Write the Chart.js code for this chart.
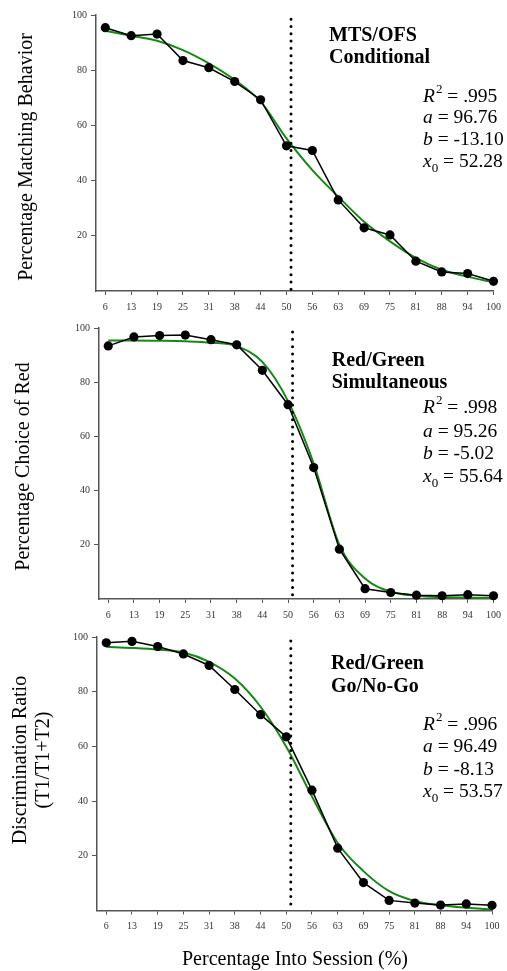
<!DOCTYPE html>
<html>
<head>
<meta charset="utf-8">
<script src="https://cdn.jsdelivr.net/npm/chart.js@4.4.1/dist/chart.umd.min.js"></script>
<style>
  body { margin: 0; background: #fff; }
  .panel { position: absolute; left: 0; width: 507px; }
</style>
</head>
<body>
<div class="panel" style="top:0;height:318px"><canvas id="c1"></canvas></div>
<div class="panel" style="top:318px;height:308px"><canvas id="c2"></canvas></div>
<div class="panel" style="top:626px;height:345px"><canvas id="c3"></canvas></div>
<script>
// x positions (percentage into session) and their printed labels
const sessionPct = [6.25, 12.5, 18.75, 25, 31.25, 37.5, 43.75, 50, 56.25, 62.5, 68.75, 75, 81.25, 87.5, 93.75, 100];
const sessionLabels = ['6', '13', '19', '25', '31', '38', '44', '50', '56', '63', '69', '75', '81', '88', '94', '100'];
const yTicks = [20, 40, 60, 80, 100];
const refLineX = 51.1;

// MTS/OFS conditional
const mtsObserved = [95.4, 92.5, 93.1, 83.5, 80.9, 75.9, 69.3, 52.6, 50.9, 33.0, 22.9, 20.3, 10.8, 6.9, 6.3, 3.5];
const mtsFit = [94.3, 92.5, 90.7, 87.3, 82.5, 76.5, 68.6, 55.3, 43.8, 34.2, 25.1, 18.0, 12.0, 7.7, 5.2, 3.1];
// Red/Green simultaneous
const rgsObserved = [93.4, 96.7, 97.2, 97.4, 95.7, 93.8, 84.4, 71.7, 48.5, 18.4, 3.8, 2.4, 1.4, 1.2, 1.6, 1.2];
const rgsFit = [95.4, 95.4, 95.3, 95.1, 94.6, 93.3, 87.5, 73.0, 50.0, 20.0, 7.6, 2.7, 1.2, 0.7, 0.5, 0.4];
// Red/Green go/no-go
const gngObserved = [97.9, 98.4, 96.5, 93.8, 89.6, 80.8, 71.6, 63.5, 44.0, 22.8, 10.2, 3.7, 2.7, 2.0, 2.4, 1.9];
const gngFit = [96.4, 96.0, 95.4, 94.3, 90.9, 84.8, 74.5, 59.9, 41.7, 24.7, 14.4, 7.1, 3.5, 1.9, 1.0, 0.4];

const panelTitles = [['MTS/OFS', 'Conditional'], ['Red/Green', 'Simultaneous'], ['Red/Green', 'Go/No-Go']];
const fitStats = [['.995', '96.76', '-13.10', '52.28'], ['.998', '95.26', '-5.02', '55.64'], ['.996', '96.49', '-8.13', '53.57']];
const yTitles = [['Percentage Matching Behavior'], ['Percentage Choice of Red'], ['Discrimination Ratio', '(T1/T1+T2)']];
const xTitle = 'Percentage Into Session (%)';

const SERIF = '"Liberation Serif", "Times New Roman", serif';

const panelText = {
    id: 'panelText',
    afterDraw(chart, args, o) {
        const ctx = chart.ctx;
        ctx.save();
        ctx.fillStyle = '#000';
        ctx.textAlign = 'left';
        ctx.textBaseline = 'alphabetic';

        ctx.font = 'bold 20px ' + SERIF;
        o.title.forEach((t, i) => ctx.fillText(t, o.titleX, o.titleY[i]));

        const rows = [
            { v: 'R', sup: '2' },
            { v: 'a' },
            { v: 'b' },
            { v: 'x', sub: '0' }
        ];
        rows.forEach((r, i) => {
            let x = o.statsX;
            const y = o.statsY[i];
            ctx.font = 'italic 19.5px ' + SERIF;
            ctx.fillText(r.v, x, y);
            x += ctx.measureText(r.v).width;
            ctx.font = '13px ' + SERIF;
            if (r.sup) {
                ctx.fillText(r.sup, x + 1, y - 9);
                x += ctx.measureText(r.sup).width + 1;
            }
            if (r.sub) {
                ctx.fillText(r.sub, x, y + 5);
                x += ctx.measureText(r.sub).width;
            }
            ctx.font = '19.5px ' + SERIF;
            ctx.fillText(' = ' + o.stats[i], x, y);
        });

        ctx.font = '20px ' + SERIF;
        o.yTitle.forEach((t, i) => {
            ctx.save();
            ctx.translate(o.yTitleX[i], o.yTitleY);
            ctx.rotate(-Math.PI / 2);
            ctx.textAlign = 'center';
            ctx.textBaseline = 'middle';
            ctx.fillText(t, 0, 0);
            ctx.restore();
        });

        if (o.xTitle) {
            ctx.textAlign = 'center';
            ctx.fillText(o.xTitle, o.xTitleX, o.xTitleY);
        }
        ctx.restore();
    }
};

function makePanel(id, observed, fit, cfg) {
    const tickFont = { family: SERIF, size: 10 };
    return new Chart(document.getElementById(id), {
        type: 'line',
        data: {
            datasets: [
                {
                    data: [{ x: refLineX, y: 98.5 }, { x: refLineX, y: 0 }],
                    borderColor: '#000',
                    borderWidth: 3,
                    borderDash: [0, 7.3],
                    borderCapStyle: 'round',
                    pointRadius: 0,
                    clip: false
                },
                {
                    data: sessionPct.map((x, i) => ({ x: x, y: observed[i] })),
                    borderColor: '#000',
                    borderWidth: 1.5,
                    pointRadius: 4.6,
                    pointBackgroundColor: '#000',
                    pointBorderWidth: 0,
                    clip: false
                },
                {
                    data: sessionPct.map((x, i) => ({ x: x, y: fit[i] })),
                    borderColor: '#138a13',
                    borderWidth: 2,
                    pointRadius: 0,
                    cubicInterpolationMode: 'monotone',
                    clip: false
                }
            ]
        },
        options: {
            responsive: true,
            maintainAspectRatio: false,
            animation: false,
            layout: { padding: { top: cfg.top, right: 507 - cfg.right, bottom: cfg.bottom, left: 0 } },
            plugins: {
                legend: { display: false },
                tooltip: { enabled: false },
                panelText: cfg.text
            },
            scales: {
                x: {
                    type: 'linear',
                    min: 4,
                    max: 100,
                    afterBuildTicks: s => { s.ticks = sessionPct.map(v => ({ value: v })); },
                    afterFit: s => { s.height = 27; },
                    ticks: {
                        callback: (v, i) => sessionLabels[i],
                        autoSkip: false,
                        maxRotation: 0,
                        padding: 6,
                        color: '#333',
                        font: tickFont
                    },
                    grid: { display: true, drawOnChartArea: false, drawTicks: true, tickLength: 4, color: '#555' },
                    border: { display: true, color: '#555', width: 1.5 }
                },
                y: {
                    min: 0,
                    max: 100,
                    afterBuildTicks: s => { s.ticks = yTicks.map(v => ({ value: v })); },
                    afterFit: s => { s.width = cfg.left; },
                    ticks: { padding: 4, color: '#333', font: tickFont },
                    grid: { display: true, drawOnChartArea: false, drawTicks: true, tickLength: 5, color: '#555' },
                    border: { display: true, color: '#555', width: 1.5 }
                }
            }
        },
        plugins: [panelText]
    });
}

makePanel('c1', mtsObserved, mtsFit, {
    left: 96, right: 494, top: 15, bottom: 0,
    text: {
        title: panelTitles[0], titleX: 329, titleY: [40.7, 63.3],
        stats: fitStats[0], statsX: 423, statsY: [101.7, 123.3, 145, 166.7],
        yTitle: yTitles[0], yTitleX: [27], yTitleY: 157
    }
});

makePanel('c2', rgsObserved, rgsFit, {
    left: 99, right: 494, top: 7, bottom: 0,
    text: {
        title: panelTitles[1], titleX: 331.7, titleY: [47.7, 70.3],
        stats: fitStats[1], statsX: 423, statsY: [95.3, 118.7, 141.3, 163.7],
        yTitle: yTitles[1], yTitleX: [23.3], yTitleY: 148.5
    }
});

makePanel('c3', gngObserved, gngFit, {
    left: 97, right: 492, top: 11, bottom: 33.5,
    text: {
        title: panelTitles[2], titleX: 331, titleY: [43.3, 65.7],
        stats: fitStats[2], statsX: 423, statsY: [104, 126.3, 149, 171.3],
        yTitle: yTitles[2], yTitleX: [21, 44], yTitleY: 134,
        xTitle: xTitle, xTitleX: 295, xTitleY: 339
    }
});
</script>
</body>
</html>
